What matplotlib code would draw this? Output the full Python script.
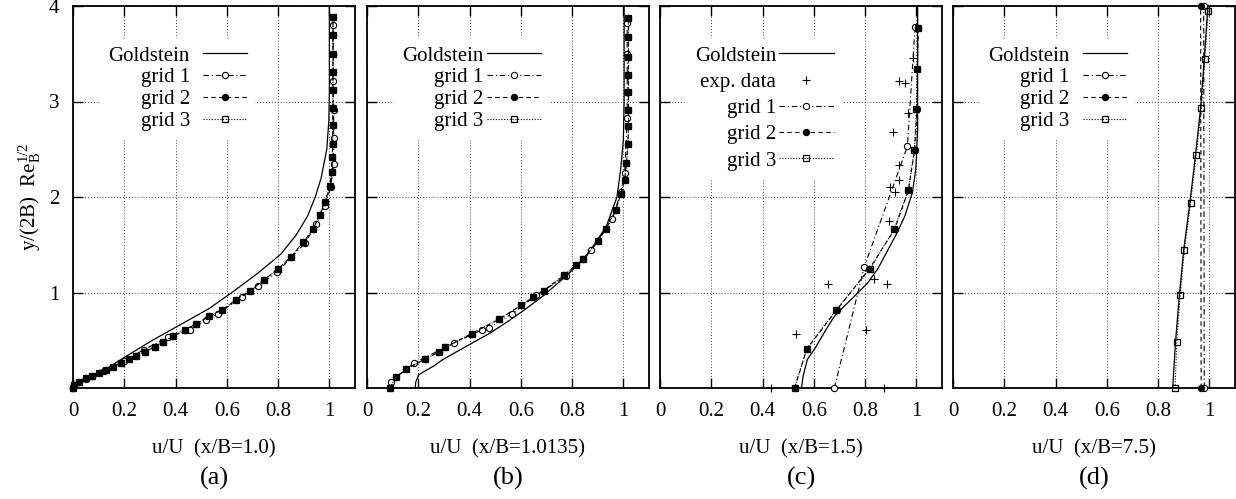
import matplotlib
matplotlib.use('Agg')
import matplotlib.pyplot as plt

plt.rcParams['font.family'] = ['Liberation Serif', 'DejaVu Serif']
plt.rcParams['mathtext.fontset'] = 'custom'
plt.rcParams['mathtext.rm'] = 'Liberation Serif'
plt.rcParams['mathtext.it'] = 'Liberation Serif:italic'
plt.rcParams['font.size'] = 15

# ---- (a) x/B = 1.0
a_gold_u = [0.0, 0.05, 0.13, 0.2, 0.31, 0.43, 0.53, 0.62, 0.72, 0.81, 0.87, 0.915, 0.945, 0.968, 0.99, 0.998, 1.0, 1.0]
a_gold_y = [0.0, 0.1, 0.2, 0.32, 0.5, 0.68, 0.83, 1.0, 1.2, 1.4, 1.6, 1.8, 2.0, 2.2, 2.5, 2.8, 3.1, 4.0]
a_g1_u = [0.0, 0.05, 0.12, 0.2, 0.275, 0.37, 0.455, 0.52, 0.566, 0.658, 0.723, 0.795, 0.906, 0.949, 0.982,
          1.005, 1.017, 1.017, 1.017, 1.015, 1.015, 1.015]
a_g1_y = [0.0, 0.09, 0.18, 0.28, 0.40, 0.53, 0.61, 0.71, 0.78, 0.95, 1.07, 1.21, 1.52, 1.72, 1.905,
          2.1, 2.35, 2.62, 2.91, 3.21, 3.5, 3.8]
a_g2_u = [0.0, 0.005, 0.024, 0.05, 0.076, 0.102, 0.128, 0.157, 0.187, 0.217, 0.246, 0.282, 0.318, 0.35,
          0.392, 0.435, 0.481, 0.531, 0.583, 0.635, 0.69, 0.745, 0.801, 0.851, 0.899, 0.936, 0.962, 0.984,
          1.001, 1.01, 1.012, 1.013, 1.013, 1.014, 1.014, 1.014, 1.014, 1.014, 1.014]
a_g2_y = [0.0, 0.035, 0.066, 0.10, 0.13, 0.16, 0.19, 0.22, 0.265, 0.30, 0.335, 0.38, 0.43, 0.485,
          0.54, 0.61, 0.67, 0.75, 0.82, 0.92, 1.02, 1.13, 1.25, 1.375, 1.53, 1.66, 1.81, 1.95,
          2.11, 2.26, 2.42, 2.56, 2.75, 2.93, 3.12, 3.31, 3.5, 3.7, 3.89]
a_g3_u = a_g2_u  # grid 2 and grid 3 sit on top of each other
a_g3_y = a_g2_y

# ---- (b) x/B = 1.0135
b_gold_u = [0.188, 0.19, 0.201, 0.221, 0.26, 0.293, 0.35, 0.41, 0.48, 0.54, 0.61, 0.685, 0.776, 0.855,
            0.933, 0.975, 0.99, 1.0, 1.003, 1.003]
b_gold_y = [0.0, 0.06, 0.136, 0.17, 0.23, 0.293, 0.38, 0.47, 0.575, 0.68, 0.81, 0.96, 1.17, 1.375,
            1.69, 2.0, 2.3, 2.6, 3.0, 4.0]
b_g1_u = [0.094, 0.182, 0.339, 0.45, 0.475, 0.567, 0.66, 0.776, 0.874, 0.957, 0.99, 1.005, 1.015,
          1.015, 1.015, 1.015]
b_g1_y = [0.066, 0.26, 0.47, 0.61, 0.63, 0.78, 0.97, 1.17, 1.445, 1.77, 2.05, 2.25, 2.83, 3.1, 3.5, 3.82]
b_g2_u = [0.09, 0.112, 0.151, 0.225, 0.282, 0.306, 0.408, 0.515, 0.601, 0.648, 0.689, 0.769, 0.816,
          0.842, 0.903, 0.931, 0.97, 0.99, 1.005, 1.012, 1.018, 1.02, 1.02, 1.02, 1.02, 1.02, 1.02, 1.02]
b_g2_y = [0.0, 0.11, 0.195, 0.30, 0.38, 0.425, 0.57, 0.72, 0.865, 0.95, 1.02, 1.18, 1.29,
          1.35, 1.54, 1.67, 1.86, 2.03, 2.18, 2.36, 2.56, 2.74, 2.91, 3.1, 3.28, 3.47, 3.68, 3.87]
b_g3_u = b_g2_u
b_g3_y = b_g2_y

# ---- (c) x/B = 1.5
c_gold_u = [0.552, 0.558, 0.575, 0.608, 0.645, 0.68, 0.72, 0.758, 0.81, 0.85, 0.889, 0.92, 0.955,
            0.985, 0.998, 1.005, 1.005]
c_gold_y = [0.0, 0.12, 0.3, 0.43, 0.6, 0.75, 0.86, 0.96, 1.1, 1.25, 1.445, 1.6, 1.8,
            2.05, 2.3, 2.7, 4.0]
c_exp_u = [0.434, 0.872, 0.529, 0.804, 0.656, 0.885, 0.833, 0.895, 0.898, 0.918, 0.931, 0.931,
           0.909, 0.967, 0.932, 0.954, 0.987]
c_exp_y = [0.0, 0.0, 0.57, 0.61, 1.085, 1.085, 1.14, 1.75, 2.10, 2.05, 2.18, 2.335,
           2.68, 2.88, 3.21, 3.19, 3.46]
c_g1_u = [0.68, 0.797, 0.965, 0.995]
c_g1_y = [0.0, 1.27, 2.53, 3.78]
c_g2_u = [0.525, 0.573, 0.69, 0.817, 0.915, 0.969, 0.993, 1.003, 1.004, 1.007]
c_g2_y = [0.0, 0.41, 0.82, 1.25, 1.66, 2.07, 2.49, 2.92, 3.34, 3.77]
c_g3_u = [0.525, 0.572, 0.688, 0.82, 0.913, 0.968, 0.992, 1.0, 1.004, 1.005]
c_g3_y = c_g2_y

# ---- (d) x/B = 7.5
d_gold_u = [0.857, 0.868, 0.883, 0.9, 0.924, 0.946, 0.966, 0.98, 0.993, 0.994]
d_gold_y = [0.0, 0.485, 0.97, 1.45, 1.94, 2.44, 2.935, 3.44, 3.95, 4.0]
d_g1_u = [0.98, 0.978]
d_g1_y = [0.0, 4.0]
d_g2_u = [0.968, 0.966]
d_g2_y = [0.0, 4.0]
d_g3_u = [0.866, 0.873, 0.886, 0.903, 0.927, 0.949, 0.969, 0.982, 0.995]
d_g3_y = [0.0, 0.485, 0.97, 1.45, 1.94, 2.44, 2.935, 3.44, 3.95]

xticks = [0, 0.2, 0.4, 0.6, 0.8, 1]
xtick_labels = ['0', '0.2', '0.4', '0.6', '0.8', '1']
yticks = [1, 2, 3, 4]
xlabels = ['u/U  (x/B=1.0)', 'u/U  (x/B=1.0135)', 'u/U  (x/B=1.5)', 'u/U  (x/B=7.5)']
tags = ['(a)', '(b)', '(c)', '(d)']

panels = [
    dict(gold=(a_gold_u, a_gold_y), g1=(a_g1_u, a_g1_y), g2=(a_g2_u, a_g2_y), g3=(a_g3_u, a_g3_y), exp=None,
         hl=2.1, htp=0.62, ls=0.11),
    dict(gold=(b_gold_u, b_gold_y), g1=(b_g1_u, b_g1_y), g2=(b_g2_u, b_g2_y), g3=(b_g3_u, b_g3_y), exp=None,
         hl=2.55, htp=0.2, ls=0.11),
    dict(gold=(c_gold_u, c_gold_y), g1=(c_g1_u, c_g1_y), g2=(c_g2_u, c_g2_y), g3=(c_g3_u, c_g3_y),
         exp=(c_exp_u, c_exp_y), hl=2.6, htp=0.15, ls=0.32),
    dict(gold=(d_gold_u, d_gold_y), g1=(d_g1_u, d_g1_y), g2=(d_g2_u, d_g2_y), g3=(d_g3_u, d_g3_y), exp=None,
         hl=2.1, htp=0.65, ls=0.11),
]

fig = plt.figure(figsize=(12.36, 4.99), dpi=100)
lefts = [73, 367, 660, 953]

for i, p in enumerate(panels):
    ax = fig.add_axes([lefts[i] / 1236, 111 / 499, 282 / 1236, 382 / 499])
    ax.plot(*p['gold'], color='black', lw=0.9, label='Goldstein', clip_on=False, zorder=3)
    if p['exp'] is not None:
        ax.plot(*p['exp'], linestyle='none', marker='+', color='black', ms=6, mew=0.8,
                label='exp. data', clip_on=False, zorder=3)
    ax.plot(*p['g1'], color='black', lw=0.8, linestyle=(0, (5, 2.5, 1, 2.5)), marker='o', ms=4.5,
            mfc='white', mec='black', mew=0.8, label='grid 1', clip_on=False, zorder=3)
    ax.plot(*p['g2'], color='black', lw=0.8, linestyle=(0, (4, 3)), marker='o', ms=4.5,
            mfc='black', mec='black', mew=0.8, label='grid 2', clip_on=False, zorder=3)
    ax.plot(*p['g3'], color='black', lw=0.8, linestyle=(0, (1, 1.5)), marker='s', ms=5,
            mfc='none', mec='black', mew=0.9, label='grid 3', clip_on=False, zorder=3)

    ax.set_xlim(0, 1.1)
    ax.set_ylim(0, 4)
    ax.set_xticks(xticks)
    ax.set_xticklabels(xtick_labels)
    ax.set_yticks(yticks)
    if i == 0:
        ax.set_yticklabels([str(t) for t in yticks])
        ax.set_ylabel(r'y/(2B)  Re$_\mathrm{B}^{\mathrm{1/2}}$', labelpad=4)
    else:
        ax.set_yticklabels([])
    ax.tick_params(direction='in', length=7, width=1, top=True, right=True, labelsize=15)
    ax.tick_params(axis='x', pad=10)
    ax.tick_params(axis='y', pad=10)
    for s in ax.spines.values():
        s.set_linewidth(1.3)
    ax.grid(True, color='black', linestyle=(0, (1, 2.5)), linewidth=0.6)
    ax.set_xlabel(xlabels[i], labelpad=13)
    ax.text(0.5, -0.236, tags[i], ha='center', va='center', transform=ax.transAxes, fontsize=19)

    leg = ax.legend(loc='upper right', bbox_to_anchor=(0.645, 0.917), borderaxespad=0,
                    markerfirst=False, frameon=True, fancybox=False, framealpha=1,
                    edgecolor='none', facecolor='white', handlelength=p['hl'],
                    handletextpad=p['htp'], labelspacing=p['ls'], borderpad=0.4, fontsize=15)
    leg.set_zorder(5)

fig.savefig('out.png', dpi=100)
